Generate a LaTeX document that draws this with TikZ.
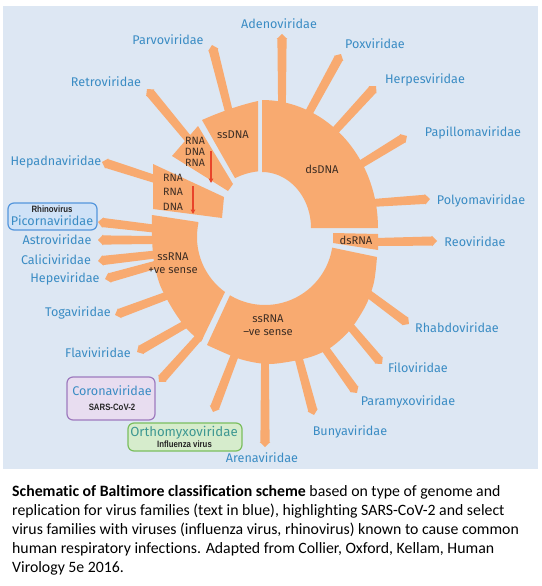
\documentclass[tikz,border=0pt]{standalone}
\usepackage{fontspec}
\setmainfont[Ligatures=NoCommon]{Carlito}
\newfontfamily\labfont{Fira Sans}
\newfontfamily\narrowfont[FakeStretch=0.85]{Liberation Sans}
\usetikzlibrary{arrows.meta}
\definecolor{panel}{RGB}{221,231,243}
\definecolor{orng}{RGB}{248,170,112}
\definecolor{lblue}{RGB}{58,140,196}
\definecolor{segtxt}{RGB}{62,46,36}
\definecolor{redarr}{RGB}{232,68,42}
\definecolor{picfill}{RGB}{207,226,247}
\definecolor{picdraw}{RGB}{84,150,220}
\definecolor{corfill}{RGB}{232,221,240}
\definecolor{cordraw}{RGB}{158,122,190}
\definecolor{ortfill}{RGB}{214,236,204}
\definecolor{ortdraw}{RGB}{122,190,94}
\definecolor{orttxt}{RGB}{62,152,146}
\newcommand\spike[4]{%
  \pgfmathsetmacro\spkang{-atan2((#4)-(#2),(#3)-(#1))}%
  \pgfmathsetmacro\spklen{veclen((#3)-(#1),(#4)-(#2))}%
  \fill[orng,shift={(#1,#2)},rotate=\spkang] (0,-3.9) -- (\spklen-5,-4.6) -- (\spklen-5,-5.3) -- (\spklen,0) -- (\spklen-5,5.3) -- (\spklen-5,4.6) -- (0,3.9) -- cycle;}
\begin{document}
\begin{tikzpicture}[x=1pt,y=-1pt,
  lbl/.style={font=\labfont\fontsize{12.6}{14}\selectfont, text=lblue, inner sep=0pt},
  seg/.style={font=\labfont\fontsize{11.2}{13}\selectfont, text=segtxt, inner sep=0pt},
  rna/.style={font=\labfont\fontsize{10.6}{12}\selectfont, text=segtxt, inner sep=0pt},
  small/.style={font=\narrowfont\bfseries\fontsize{9.2}{11}\selectfont, text=black!85, inner sep=0pt},
  rarrow/.style={draw=redarr, line width=1.4pt, -{Triangle[length=4.5pt,width=4.5pt]}},
  captext/.style={font=\fontsize{15.8}{19}\selectfont, anchor=base west, inner sep=0pt},
  hbox/.style={rounded corners=6pt, line width=1.2pt}]
\useasboundingbox (0,0) rectangle (541,586);
\fill[white] (0,0) rectangle (541,586);
\fill[panel] (3,6) rectangle (538,469);

% spikes
\spike{282}{104}{282}{34}
\spike{229}{112}{212}{45}
\spike{306}{118}{341}{54}
\spike{333}{133}{376}{86}
\spike{358}{166}{407}{136}
\spike{372}{203}{430}{199}
\spike{372}{242}{437}{241}
\spike{362}{289}{409}{324}
\spike{344}{319}{382}{364}
\spike{319}{340}{357}{393}
\spike{297}{352}{314}{415}
\spike{265}{358}{265}{447}
\spike{236}{352}{213}{412}
\spike{200}{336}{159}{382}
\spike{191}{321}{137}{352}
\spike{174}{293}{115}{315}
\spike{162}{263}{105}{279}
\spike{160}{254}{98}{261}
\spike{160}{240}{98}{240}
\spike{158}{229}{98}{222}
\spike{158}{180}{102}{162}
\spike{190}{141}{147}{89}

% segments
\fill[orng] (262,172) -- (262,100) -- plot[domain=0:90,samples=40] ({262+116*cos(90-\x)},{228-128*sin(90-\x)}) -- (311,228) -- plot[domain=0:90,samples=40] ({262+49*cos(\x)},{228-56*sin(\x)}) -- cycle;
\fill[orng] (333,233) -- (378,234) -- (378,250) -- (333,243) -- cycle;
\fill[orng] plot[domain=239:351,samples=50] ({265+68*cos(\x)},{237-68*sin(\x)}) -- (377,257) -- plot[smooth] coordinates {(377,257) (374,282) (366,305) (350,330) (330,348) (307,358) (270,364) (240,359) (207,345)} -- cycle;
\fill[orng] (152,215) -- (198,222) -- plot[domain=168:234,samples=40] ({265+68*cos(\x)},{237-68*sin(\x)}) -- (201,342) -- plot[smooth] coordinates {(201,342) (186,328) (172,308) (160,285) (154,262) (152,238) (152,215)} -- cycle;
\fill[orng] (258,101) -- plot[domain=96:117,samples=10] ({265+66*cos(\x)},{237-66*sin(\x)}) -- (202,120) .. controls (220,112) and (240,105) .. (258,101) -- cycle;
\fill[orng] (172,156) -- (198,126) -- (233,184) -- (228,191) -- cycle;
\fill[orng] (153,164) -- (224,197) -- (222,218) -- (153,209) -- cycle;

% segment texts
\node[seg] (ssdna) at (233,135) {ssDNA};
\node[seg] (dsdna) at (322,169) {dsDNA};
\node[seg] (dsrna) at (356,240) {dsRNA};
\node[seg] (pos1) at (173,257) {ssRNA};
\node[seg] (pos2) at (173,271) {+ve sense};
\node[seg] (neg1) at (268,319) {ssRNA};
\node[seg] (neg2) at (268,333) {–ve sense};
\node[rna] (r1) at (195,141) {RNA};
\node[rna] (r2) at (195,152) {DNA};
\node[rna] (r3) at (195,163) {RNA};
\node[rna] (h1) at (173,178) {RNA};
\node[rna] (h2) at (173,192) {RNA};
\node[rna] (h3) at (173,207) {DNA};
\coordinate (ra1) at (211,151);
\coordinate (ra2) at (211,183);
\coordinate (ha1) at (193,186);
\coordinate (ha2) at (193,214);
\draw[rarrow] (ra1) -- (ra2);
\draw[rarrow] (ha1) -- (ha2);

% family labels
\node[lbl] (adeno) at (279,24) {Adenoviridae};
\node[lbl] (parvo) at (168,40) {Parvoviridae};
\node[lbl] (pox) at (375,44) {Poxviridae};
\node[lbl] (retro) at (106,82) {Retroviridae};
\node[lbl] (herpes) at (425,80) {Herpesviridae};
\node[lbl] (papillo) at (473,133) {Papillomaviridae};
\node[lbl] (hepadna) at (56,162) {Hepadnaviridae};
\node[lbl] (polyoma) at (481,201) {Polyomaviridae};
\node[lbl] (reo) at (475,242) {Reoviridae};
\node[lbl] (rhabdo) at (457,328) {Rhabdoviridae};
\node[lbl] (filo) at (418,368) {Filoviridae};
\node[lbl] (paramyxo) at (408,402) {Paramyxoviridae};
\node[lbl] (bunya) at (350,432) {Bunyaviridae};
\node[lbl] (arena) at (262,458) {Arenaviridae};
\node[lbl] (flavi) at (98,353) {Flaviviridae};
\node[lbl] (toga) at (78,313) {Togaviridae};
\node[lbl] (hepe) at (65,279) {Hepeviridae};
\node[lbl] (calici) at (56,260) {Caliciviridae};
\node[lbl] (astro) at (57,240) {Astroviridae};

% highlighted boxes
\draw[hbox, draw=picdraw, fill=picfill] (8,203) rectangle (97,230);
\node[small] (rhino) at (52,209) {Rhinovirus};
\node[lbl] (picorna) at (52,221) {Picornaviridae};
\draw[hbox, draw=cordraw, fill=corfill] (67,377) rectangle (155,420);
\node[lbl] (corona) at (112,391) {Coronaviridae};
\node[small] (sars) at (112,407) {SARS-CoV-2};
\draw[hbox, draw=ortdraw, fill=ortfill] (128,423) rectangle (242,451);
\node[lbl, text=orttxt, font=\labfont\fontsize{13.2}{15}\selectfont] (ortho) at (184,432.5) {Orthomyxoviridae};
\node[small] (flu) at (184.5,444) {Influenza virus};

% caption
\node[captext] (c1) at (12,496) {\textbf{Schematic of Baltimore classification scheme} based on type of genome and};
\node[captext] (c2) at (12,515.2) {replication for virus families (text in blue), highlighting SARS-CoV-2 and select};
\node[captext] (c3) at (12,534.4) {virus families with viruses (influenza virus, rhinovirus) known to cause common};
\node[captext] (c4) at (12,553.6) {human respiratory infections. Adapted from Collier, Oxford, Kellam, Human};
\node[captext] (c5) at (12,572.8) {Virology 5e 2016.};
\end{tikzpicture}
\end{document}
